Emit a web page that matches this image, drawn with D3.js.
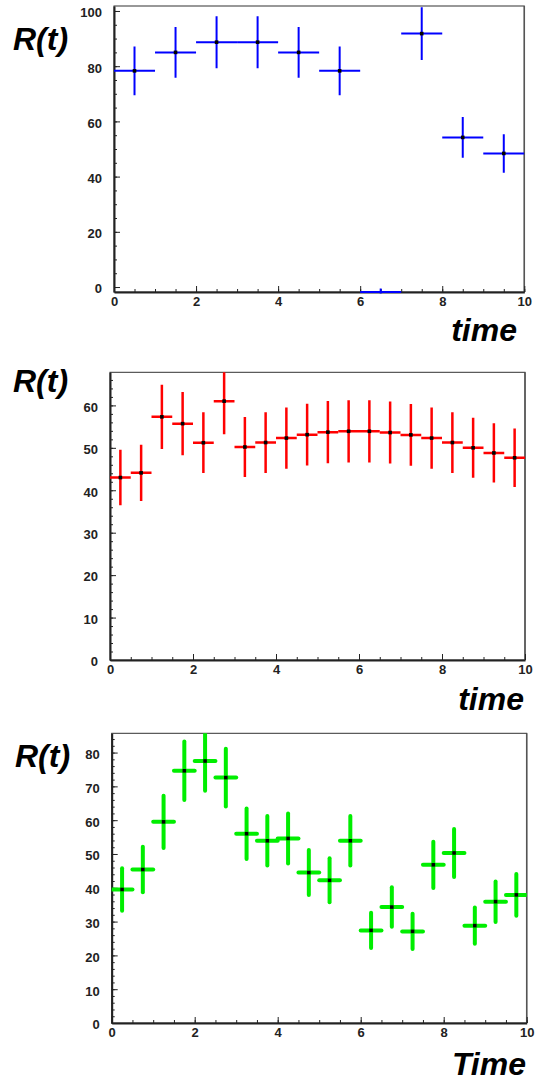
<!DOCTYPE html>
<html lang="en">
<head>
    <meta charset="utf-8">
    <title>R(t) vs time</title>
    <script src="https://cdnjs.cloudflare.com/ajax/libs/d3/7.8.5/d3.min.js"></script>
    <style>
      body { margin: 0; background: white; }
      .tick text { font-family: "Liberation Sans", Arial, sans-serif; font-weight: bold; font-size: 13px; fill: #222; }
      .title { font-family: "Liberation Sans", Arial, sans-serif; font-weight: bold; font-style: italic; font-size: 32px; fill: black; }
    </style>
</head>

<body>

  <script>
  	var w = 543;
  	var h = 1082;

  	/// DATA  (bin centres, contents, errors)
  	var time1 = [0.5, 1.5, 2.5, 3.5, 4.5, 5.5, 6.5, 7.5, 8.5, 9.5];
  	var rate1 = [78.3, 85.0, 88.7, 88.7, 85.0, 78.3, -1.8, 91.8, 54.2, 48.4];
  	var err1  = [8.85, 9.22, 9.42, 9.42, 9.22, 8.85, 1.3, 9.58, 7.36, 6.96];

  	var time2 = [0.25, 0.75, 1.25, 1.75, 2.25, 2.75, 3.25, 3.75, 4.25, 4.75,
  	             5.25, 5.75, 6.25, 6.75, 7.25, 7.75, 8.25, 8.75, 9.25, 9.75];
  	var rate2 = [43.0, 44.1, 57.3, 55.7, 51.2, 61.0, 50.2, 51.25, 52.3, 53.1,
  	             53.7, 53.9, 53.9, 53.6, 53.05, 52.3, 51.25, 50.0, 48.8, 47.65];
  	var err2  = [6.56, 6.64, 7.57, 7.46, 7.16, 7.81, 7.09, 7.16, 7.23, 7.29,
  	             7.33, 7.34, 7.34, 7.32, 7.28, 7.23, 7.16, 7.07, 6.99, 6.90];

  	var time3 = [0.25, 0.75, 1.25, 1.75, 2.25, 2.75, 3.25, 3.75, 4.25, 4.75,
  	             5.25, 5.75, 6.25, 6.75, 7.25, 7.75, 8.25, 8.75, 9.25, 9.75];
  	var rate3 = [39.5, 45.4, 59.5, 74.6, 77.5, 72.6, 56.0, 53.9, 54.6, 44.5,
  	             42.2, 53.9, 27.4, 34.3, 27.1, 46.8, 50.3, 28.8, 35.9, 37.9];
  	var err3  = [6.28, 6.74, 7.71, 8.64, 8.80, 8.52, 7.48, 7.34, 7.39, 6.67,
  	             6.50, 7.34, 5.23, 5.86, 5.21, 6.84, 7.09, 5.37, 5.99, 6.16];

  	var xTicks = [0, 2, 4, 6, 8, 10];
  	var xMinor = d3.range(0, 10.01, 0.5);

  	var svg = d3.select("body")
  				.append("svg")
  				.attr("width", w)
  				.attr("height", h);

  	svg.append("rect")
  	   .attr("width", w)
  	   .attr("height", h)
  	   .attr("fill", "white");

  	function make_panel(opt) {
  		var g = svg.append("g");
  		var x = d3.scaleLinear().domain([0, 10]).range([opt.left, opt.right]);
  		var y = d3.scaleLinear().domain(opt.ydom).range([opt.bottom, opt.top]);

  		var clipId = "clip" + opt.id;
  		g.append("clipPath")
  		 .attr("id", clipId)
  		 .append("rect")
  		 .attr("x", opt.left)
  		 .attr("y", opt.top)
  		 .attr("width", opt.right - opt.left)
  		 .attr("height", opt.bottom - opt.top + 1.5);

  		// frame
  		g.append("rect")
  		 .attr("x", opt.left)
  		 .attr("y", opt.top)
  		 .attr("width", opt.right - opt.left)
  		 .attr("height", opt.bottom - opt.top)
  		 .attr("fill", "none")
  		 .attr("stroke", "#333")
  		 .attr("stroke-width", 1);
  		g.append("line")
  		 .attr("x1", opt.right).attr("x2", opt.right)
  		 .attr("y1", opt.top).attr("y2", opt.bottom)
  		 .attr("stroke", "#555").attr("stroke-width", 1.5);

  		// minor ticks
  		g.append("g")
  		 .attr("transform", "translate(" + opt.left + ",0)")
  		 .call(d3.axisLeft(y).tickValues(opt.yMinor).tickSize(-3).tickFormat(""))
  		 .call(function(a) { a.select(".domain").remove(); a.selectAll("line").attr("stroke", "#222"); });
  		g.append("g")
  		 .attr("transform", "translate(0," + opt.bottom + ")")
  		 .call(d3.axisBottom(x).tickValues(xMinor).tickSize(-3).tickFormat(""))
  		 .call(function(a) { a.select(".domain").remove(); a.selectAll("line").attr("stroke", "#222"); });

  		// major axes
  		var ya = g.append("g")
  		 .attr("transform", "translate(" + opt.left + ",0)")
  		 .call(d3.axisLeft(y).tickValues(opt.yTicks).tickSizeInner(-6).tickSizeOuter(0).tickPadding(12).tickFormat(d3.format("d")));
  		ya.selectAll("text").attr("dy", "0.45em");
  		ya.select(".domain").attr("stroke", "#222").attr("stroke-width", 2);
  		ya.selectAll("line").attr("stroke", "#222");

  		var xa = g.append("g")
  		 .attr("transform", "translate(0," + opt.bottom + ")")
  		 .call(d3.axisBottom(x).tickValues(xTicks).tickSizeInner(-6).tickSizeOuter(0).tickPadding(4.5).tickFormat(d3.format("d")));
  		xa.select(".domain").attr("stroke", "#222").attr("stroke-width", 2);
  		xa.selectAll("line").attr("stroke", "#222");

  		// error crosses
  		var pts = g.append("g").attr("clip-path", "url(#" + clipId + ")");
  		var data = opt.t.map(function(d, i) { return { t: d, v: opt.v[i], e: opt.e[i] }; });
  		var half = opt.binw / 2;

  		pts.selectAll("line.hbar")
  		   .data(data)
  		   .enter()
  		   .append("line")
  		   .attr("class", "hbar")
  		   .attr("x1", function(d) { return x(d.t - half); })
  		   .attr("x2", function(d) { return x(d.t + half); })
  		   .attr("y1", function(d) { return y(d.v); })
  		   .attr("y2", function(d) { return y(d.v); })
  		   .attr("stroke", opt.color)
  		   .attr("stroke-width", opt.lw)
  		   .attr("stroke-linecap", opt.cap);

  		pts.selectAll("line.vbar")
  		   .data(data)
  		   .enter()
  		   .append("line")
  		   .attr("class", "vbar")
  		   .attr("x1", function(d) { return x(d.t); })
  		   .attr("x2", function(d) { return x(d.t); })
  		   .attr("y1", function(d) { return y(d.v - d.e); })
  		   .attr("y2", function(d) { return y(d.v + d.e); })
  		   .attr("stroke", opt.color)
  		   .attr("stroke-width", opt.lw)
  		   .attr("stroke-linecap", opt.cap);

  		pts.selectAll("rect.marker")
  		   .data(data.filter(function(d) { return d.v > opt.ydom[0]; }))
  		   .enter()
  		   .append("rect")
  		   .attr("class", "marker")
  		   .attr("x", function(d) { return x(d.t) - 1.8; })
  		   .attr("y", function(d) { return y(d.v) - 1.8; })
  		   .attr("width", 3.6)
  		   .attr("height", 3.6)
  		   .attr("fill", "black");

  		// titles
  		g.append("text")
  		 .attr("class", "title")
  		 .attr("x", opt.ytx)
  		 .attr("y", opt.yty)
  		 .text("R(t)");
  		g.append("text")
  		 .attr("class", "title")
  		 .attr("x", opt.xtx)
  		 .attr("y", opt.xty)
  		 .attr("text-anchor", "end")
  		 .text(opt.xtitle);
  	}

  	make_panel({
  		id: 1, left: 114, right: 524.3, top: 6, bottom: 292,
  		ydom: [-1.8, 101.8], yTicks: [0, 20, 40, 60, 80, 100], yMinor: d3.range(0, 101, 5),
  		t: time1, v: rate1, e: err1, binw: 1,
  		color: "#0000ff", lw: 2, cap: "butt",
  		ytx: 13, yty: 50, xtx: 517, xty: 341, xtitle: "time"
  	});

  	make_panel({
  		id: 2, left: 110, right: 525, top: 372.3, bottom: 660,
  		ydom: [0, 67.8], yTicks: [0, 10, 20, 30, 40, 50, 60], yMinor: d3.range(0, 67, 2),
  		t: time2, v: rate2, e: err2, binw: 0.5,
  		color: "#ff0000", lw: 2.5, cap: "butt",
  		ytx: 13, yty: 392, xtx: 524, xty: 710, xtitle: "time"
  	});

  	make_panel({
  		id: 3, left: 111.7, right: 526.7, top: 733.3, bottom: 1023,
  		ydom: [0, 85.7], yTicks: [0, 10, 20, 30, 40, 50, 60, 70, 80], yMinor: d3.range(0, 85, 2),
  		t: time3, v: rate3, e: err3, binw: 0.5,
  		color: "#00ee00", lw: 4, cap: "round",
  		ytx: 15, yty: 767, xtx: 526, xty: 1075, xtitle: "Time"
  	});

  </script>

</body>

</html>
